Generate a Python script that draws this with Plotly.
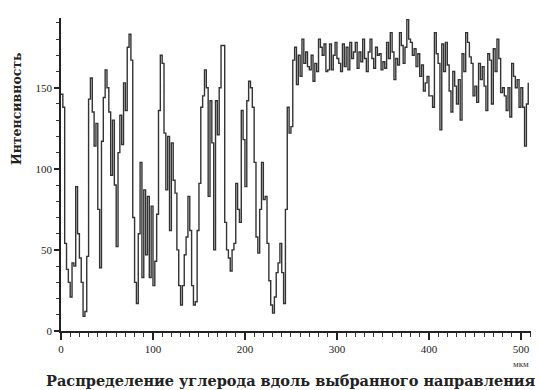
import plotly.graph_objects as go

# Positions along the chosen direction (step of 2 units)
positions = list(range(0, 510, 2))

intensity = [
    # 0 - 84
    146, 138, 54, 38, 30, 21, 42, 40, 89, 60, 45, 30, 9, 12, 46, 143, 156, 135, 114, 128,
    75, 39, 117, 144, 161, 150, 135, 96, 130, 90, 52, 110, 133, 115, 153, 136, 175, 183, 167, 70,
    30, 17, 60,
    # 86 - 170
    104, 33, 87, 47, 83, 33, 77, 28, 43, 72, 136, 170, 165, 122, 87, 120, 62, 116, 93, 85,
    50, 28, 16, 28, 47, 58, 83, 62, 28, 16, 18, 62, 91, 138, 145, 161, 150, 83, 142, 116,
    50, 142, 121,
    # 172 - 258
    150, 176, 176, 67, 50, 45, 37, 50, 54, 91, 75, 67, 136, 118, 89, 142, 154, 150, 138, 104,
    58, 48, 75, 104, 81, 83, 54, 31, 16, 11, 21, 36, 42, 54, 36, 17, 75, 138, 122, 126,
    167, 175, 152, 170,
    # 260 - 344
    157, 180, 165, 172, 163, 161, 170, 154, 165, 160, 180, 175, 170, 177, 160, 161, 177, 161, 170, 178,
    168, 165, 160, 177, 163, 175, 161, 178, 168, 172, 178, 162, 172, 166, 180, 168, 160, 172, 180, 168,
    162, 175, 170,
    # 346 - 430
    171, 161, 166, 162, 178, 168, 184, 172, 155, 168, 164, 184, 176, 165, 175, 192, 180, 178, 170, 174,
    163, 171, 157, 164, 148, 153, 157, 145, 145, 138, 184, 171, 165, 124, 177, 160, 178, 164, 148, 135,
    160, 151, 140,
    # 432 - 508
    155, 130, 171, 160, 184, 178, 169, 165, 145, 151, 141, 165, 155, 163, 151, 136, 171, 167, 140, 174,
    160, 180, 168, 147, 150, 145, 136, 150, 132, 165, 157, 150, 155, 138, 150, 138, 114, 140, 153,
]

y_ticks = [0, 50, 100, 150]
x_ticks = [0, 100, 200, 300, 400, 500]

fig = go.Figure()
fig.add_trace(go.Scatter(
    x=positions[:len(intensity)], y=intensity, mode="lines",
    line=dict(color="#333333", width=1.4, shape="hv"),
    showlegend=False, hoverinfo="skip",
))

serif = "Liberation Serif, Times New Roman, serif"
wide_serif = "DejaVu Serif, Liberation Serif, serif"

fig.update_layout(
    width=539, height=390,
    margin=dict(l=61, r=8, t=18, b=59),
    paper_bgcolor="white", plot_bgcolor="white",
    font=dict(family=serif, color="#222"),
    xaxis=dict(
        range=[0, 511], tickvals=x_ticks, ticktext=[str(v) for v in x_ticks],
        showgrid=False, zeroline=False, showline=True, linecolor="#222", linewidth=1.5,
        ticks="outside", ticklen=7, tickwidth=1.5, tickcolor="#222",
        minor=dict(dtick=10, tick0=0, ticks="outside", ticklen=4, tickwidth=1.2, tickcolor="#333", showgrid=False),
        tickfont=dict(family=serif, size=11, color="#222"),
    ),
    yaxis=dict(
        range=[0, 193], tickvals=y_ticks, ticktext=[str(v) for v in y_ticks],
        showgrid=False, zeroline=False, showline=True, linecolor="#222", linewidth=1.5,
        ticks="outside", ticklen=5, tickwidth=1.5, tickcolor="#222",
        minor=dict(dtick=10, tick0=0, ticks="outside", ticklen=3, tickwidth=1.2, tickcolor="#333", showgrid=False),
        tickfont=dict(family=serif, size=11, color="#222"),
    ),
    annotations=[
        dict(text="<b>Интенсивность</b>", xref="paper", yref="paper", x=-0.095, y=0.71,
             xanchor="center", yanchor="middle", textangle=-90, showarrow=False,
             font=dict(family=wide_serif, size=12.5, color="#222")),
        dict(text="<b>Распределение углерода вдоль выбранного направления</b>", xref="paper", yref="paper",
             x=1.014, y=-0.158, xanchor="right", yanchor="middle", showarrow=False,
             font=dict(family=wide_serif, size=14.5, color="#222")),
        dict(text="мкм", xref="x", yref="paper", x=500, y=-0.105, xanchor="center", yanchor="middle",
             showarrow=False, font=dict(family=serif, size=9, color="#333")),
    ],
)

fig.write_html("out.html", config={"displayModeBar": False},
               post_script="document.body.style.margin='0';document.body.style.overflow='hidden';")
